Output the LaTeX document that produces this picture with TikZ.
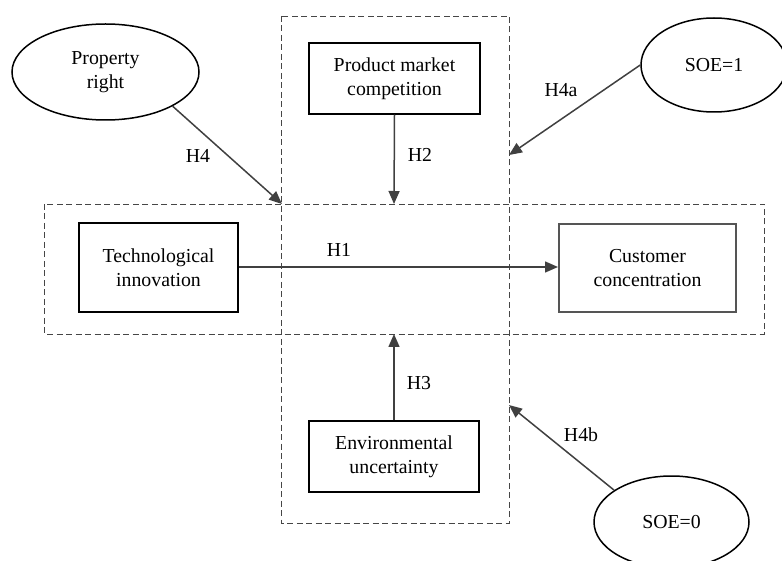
\documentclass[tikz,border=0pt]{standalone}
\usepackage{fontspec}
\setmainfont{Liberation Serif}
\usetikzlibrary{shapes.geometric,arrows.meta}
\definecolor{arrowgray}{RGB}{64,64,64}
\definecolor{dashgray}{RGB}{70,70,70}
\definecolor{custgray}{RGB}{85,85,85}
\begin{document}
\begin{tikzpicture}[x=1pt,y=-1pt,
  every node/.style={font=\fontsize{19.8}{24}\selectfont, align=center, inner sep=0pt},
  varbox/.style={draw=black, line width=1.5pt, rectangle},
  modell/.style={draw=black, line width=1.5pt, ellipse},
  grpbox/.style={draw=dashgray, line width=0.9pt, dash pattern=on 6pt off 3.5pt},
  link/.style={draw=arrowgray, line width=1.5pt, -{Triangle[length=13pt,width=11pt]}},
  hlabel/.style={text=black}
]
\useasboundingbox (0,0) rectangle (782,561);
% dashed group boxes
\draw[grpbox] (281,16) rectangle (509,523);
\draw[grpbox] (44,204) rectangle (764,334);
% coordinates on the group boxes
\coordinate (topin) at (394,204);
\coordinate (botin) at (394,334);
\coordinate (corner) at (282,204);
\coordinate (rtop) at (509,155);
\coordinate (rbot) at (509,405);
% variables
\node[varbox, minimum width=159pt, minimum height=89pt] (tech) at (158.5,267.5) {Technological\\innovation};
\node[rectangle, draw=custgray, line width=2pt, minimum width=177pt, minimum height=88pt] (cust) at (647.5,268) {Customer\\concentration};
\node[varbox, minimum width=171pt, minimum height=71pt] (pmc) at (394.5,78.5) {Product market\\competition};
\node[varbox, minimum width=170pt, minimum height=71pt] (env) at (394,456.5) {Environmental\\uncertainty};
% moderators
\node[modell, minimum width=187pt, minimum height=96pt] (prop) at (105.5,72) {Property\\right};
\node[modell, minimum width=146pt, minimum height=94pt] (soe1) at (714,65) {SOE=1};
\node[modell, minimum width=155pt, minimum height=92pt] (soe0) at (671.5,522) {SOE=0};
% arrows
\draw[link] (tech.east |- 0,267) -- (cust.west |- 0,267);
\draw[link] (pmc.south) -- (topin);
\draw[link] (env.north) -- (botin);
\draw[link] (prop.-27) -- (corner);
\draw[link] (soe1.west) -- (rtop);
\draw[link] (soe0.151) -- (rbot);
% labels
\node[hlabel] (h1) at (339,250) {H1};
\node[hlabel] (h2) at (420,155) {H2};
\node[hlabel] (h3) at (419,383) {H3};
\node[hlabel] (h4) at (198,156) {H4};
\node[hlabel] (h4a) at (561,90) {H4a};
\node[hlabel] (h4b) at (581,435) {H4b};
\end{tikzpicture}
\end{document}
